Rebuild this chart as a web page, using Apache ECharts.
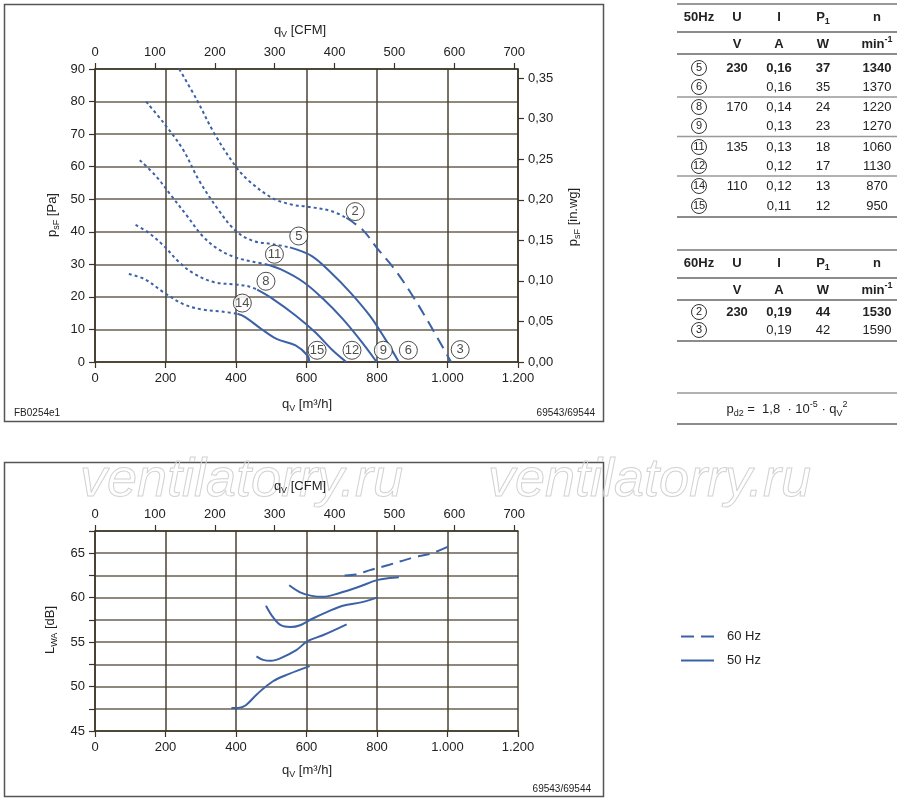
<!DOCTYPE html>
<html><head><meta charset="utf-8">
<script src="https://cdn.jsdelivr.net/npm/echarts@6/dist/echarts.min.js"></script>
<style>html,body{margin:0;padding:0;background:#fff}#c{width:900px;height:802px}</style>
</head><body><div id="c"></div>
<script>
const FONT = '"Liberation Sans", Arial, Helvetica, sans-serif';
const BLUE = '#3b62a6';
const TXT = '#222';
const AXC = '#3b3325';
const GRIDH = '#8f887c';
const GRIDV = '#4a4234';

// unit conversions for secondary axes
const M3H_PER_CFM = 1.699011;
const PA_PER_INWG = 249.089;

// ---- Top chart: static pressure p_sF [Pa] vs q_V [m3/h]
const curve2Dotted = [[239,90],[289,80.5],[338,70.3],[399,60.1],[437,55.6],[504,50.3],[560,48.3],[603,47.7],[669,46.4],[713,44.3]];
const curve2Dashed = [[713,44.3],[760,40.5],[800,35],[850,28.5],[900,20.5],[950,11.5],[1010,0]];
const curve5Dotted = [[145,80],[195,73.4],[250,65.2],[294,56],[349,46.9],[399,40.3],[448,37.2],[504,36.2],[553,35.2]];
const curve5Solid  = [[553,35.2],[614,32.6],[669,27.5],[724,21.4],[779,14.3],[823,7.1],[862,0]];
const curve11Dotted = [[127,62],[173,57.1],[217,51],[261,44.9],[305,38.7],[349,34.7],[399,32.1],[448,30.8],[482,30.1]];
const curve11Solid  = [[482,30.1],[526,28.5],[592,24.5],[647,19.4],[702,13.3],[757,6.1],[799,0]];
const curve8Dotted = [[115,42.1],[151,39.8],[195,35.7],[239,30.6],[283,27],[338,24.5],[399,23.8],[437,23.2],[460,22.2]];
const curve8Solid  = [[460,22.2],[504,19.4],[569,14.3],[624,9.2],[674,3.6],[713,0]];
const curve14Dotted = [[96,27],[140,25.5],[195,21.4],[250,17.8],[305,16.1],[360,15.5],[404,14.8]];
const curve14Solid  = [[404,14.8],[426,13.8],[471,10.2],[515,7.1],[569,5.1],[603,2],[608,0]];
// circled operating-point markers [q, p, label]
const pointLabels = [[738,46.2,'2'],[578,38.7,'5'],[509,33.1,'11'],[485,24.8,'8'],[418,18.1,'14'],
  [630,3.6,'15'],[729,3.6,'12'],[818,3.6,'9'],[889,3.6,'6'],[1036,3.8,'3']];

// ---- Bottom chart: sound power L_WA [dB] vs q_V
const noise60 = [[708,62.5],[740,62.6],[780,63.1],[835,63.7],[901,64.5],[956,65.0],[1011,65.9]];
const noise50a = [[551,61.4],[582,60.6],[615,60.2],[648,60.1],[692,60.5],[747,61.2],[802,62.0],[835,62.2],[862,62.3]];
const noise50b = [[485,59.1],[505,57.8],[527,56.9],[554,56.7],[582,56.9],[615,57.6],[659,58.4],[703,59.1],[758,59.5],[800,60.0]];
const noise50c = [[458,53.4],[477,53.0],[499,52.9],[527,53.2],[571,54.1],[603,55.1],[648,55.8],[714,57.0]];
const noise50d = [[387,47.6],[406,47.6],[428,47.9],[461,49.2],[505,50.6],[549,51.4],[609,52.3]];

// ---- Tables
const tableColsX = [699, 737, 779, 823, 877];
const table50Head = ['50Hz','U','I','P1','n'];
const tableUnits = ['','V','A','W','min-1'];
const table50Rows = [
  ['5','230','0,16','37','1340'],
  ['6','','0,16','35','1370'],
  ['8','170','0,14','24','1220'],
  ['9','','0,13','23','1270'],
  ['11','135','0,13','18','1060'],
  ['12','','0,12','17','1130'],
  ['14','110','0,12','13','870'],
  ['15','','0,11','12','950']
];
const table60Head = ['60Hz','U','I','P1','n'];
const table60Rows = [
  ['2','230','0,19','44','1530'],
  ['3','','0,19','42','1590']
];
const table50RowY = [68, 87, 107, 126, 147, 166, 186, 206];
const table60RowY = [312, 330];
const boldRows50 = [0];
const boldRows60 = [0];

function fmtFlow(v){ return v >= 1000 ? Math.floor(v/1000) + '.' + String(v%1000).padStart(3,'0') : String(v); }

const richBase = {
  i: {fontSize: 13, fontFamily: FONT, fill: TXT, color: TXT, lineHeight: 18},
  s: {fontSize: 9, fontFamily: FONT, fill: TXT, color: TXT, verticalAlign: 'bottom', lineHeight: 10},
  u: {fontSize: 9, fontFamily: FONT, fill: TXT, color: TXT, verticalAlign: 'top', lineHeight: 10},
  b: {fontSize: 13, fontFamily: FONT, fontWeight: 'bold', fill: TXT, color: TXT, lineHeight: 18},
  bs: {fontSize: 9, fontFamily: FONT, fontWeight: 'bold', fill: TXT, color: TXT, verticalAlign: 'bottom', lineHeight: 10},
  bu: {fontSize: 9, fontFamily: FONT, fontWeight: 'bold', fill: TXT, color: TXT, verticalAlign: 'top', lineHeight: 10},
  c: {fontSize: 11, fontFamily: FONT, fill: TXT, borderColor: '#333', borderWidth: 1, borderRadius: 8,
      width: 15, height: 15, lineHeight: 15, align: 'center'}
};

function txt(text, x, y, opts) {
  opts = opts || {};
  return {type: 'text', x: x, y: y, rotation: opts.rot || 0, z: 10,
    style: {text: text, x: 0, y: 0, align: opts.align || 'center', verticalAlign: 'middle',
      fontSize: opts.size || 13, fontFamily: FONT, fontWeight: opts.bold ? 'bold' : 'normal',
      fill: TXT, rich: richBase}};
}
function hline(x1, x2, y, color, w) {
  return {type: 'line', z: 10, shape: {x1: x1, y1: y, x2: x2, y2: y}, style: {stroke: color, lineWidth: w || 1.2}};
}

const graphics = [];
// frames
graphics.push({type: 'rect', z: 1, shape: {x: 4.5, y: 4.5, width: 599, height: 417}, style: {fill: 'none', stroke: '#555', lineWidth: 1.5}});
graphics.push({type: 'rect', z: 1, shape: {x: 4.5, y: 462.5, width: 599, height: 334}, style: {fill: 'none', stroke: '#555', lineWidth: 1.5}});
// watermark
['ventilatorry.ru','ventilatorry.ru'].forEach(function(w, k){
  graphics.push({type: 'text', z: 2, x: k === 0 ? 80 : 488, y: 454,
    style: {text: w, x: 0, y: 0, align: 'left', verticalAlign: 'top', fontSize: 54, fontStyle: 'italic',
      fontFamily: FONT, fill: 'rgba(255,255,255,0)', stroke: '#d2d2d2', lineWidth: 1}});
});
// axis titles
graphics.push(txt('{i|q}{s|V}{i| [CFM]}', 300, 30));
graphics.push(txt('{i|q}{s|V}{i| [m³/h]}', 307, 404));
graphics.push(txt('{i|p}{s|sF}{i| [Pa]}', 52, 215, {rot: Math.PI/2}));
graphics.push(txt('{i|p}{s|sF}{i| [in.wg]}', 573, 217, {rot: Math.PI/2}));
graphics.push(txt('{i|q}{s|V}{i| [CFM]}', 300, 486));
graphics.push(txt('{i|q}{s|V}{i| [m³/h]}', 307, 770));
graphics.push(txt('{i|L}{s|WA}{i| [dB]}', 50, 630, {rot: Math.PI/2}));
// footnotes
graphics.push(txt('FB0254e1', 14, 413, {align: 'left', size: 10}));
graphics.push(txt('69543/69544', 595, 413, {align: 'right', size: 10}));
graphics.push(txt('69543/69544', 591, 789, {align: 'right', size: 10}));

// tables
function headCell(t) {
  if (t === 'P1') return '{b|P}{bs|1}';
  return '{b|' + t + '}';
}
function unitCell(t) {
  if (t === 'min-1') return '{b|min}{bu|-1}';
  return '{b|' + t + '}';
}
function buildTable(head, rows, rowY, boldRows, topY) {
  graphics.push(hline(677, 897, topY, '#777', 1.3));
  head.forEach(function(h, j){ graphics.push(txt(headCell(h), tableColsX[j], topY + 13, {bold: true})); });
  graphics.push(hline(677, 897, topY + 28, '#666', 1.3));
  tableUnits.forEach(function(h, j){ if (h) graphics.push(txt(unitCell(h), tableColsX[j], topY + 40, {bold: true})); });
  graphics.push(hline(677, 897, topY + 50, '#666', 1.3));
  rows.forEach(function(r, i){
    const bold = boldRows.indexOf(i) >= 0;
    r.forEach(function(v, j){
      if (!v) return;
      if (j === 0) graphics.push(txt('{c|' + v + '}', tableColsX[j], rowY[i]));
      else graphics.push(txt(v, tableColsX[j], rowY[i], {bold: bold}));
    });
    if (i % 2 === 1) {
      const ly = (i === rows.length - 1) ? rowY[i] + 11 : (rowY[i] + rowY[i+1]) / 2;
      graphics.push(hline(677, 897, ly, i === rows.length - 1 ? '#666' : '#999', 1.3));
    }
  });
}
buildTable(table50Head, table50Rows, table50RowY, boldRows50, 4);
buildTable(table60Head, table60Rows, table60RowY, boldRows60, 250);
// formula
graphics.push(hline(677, 897, 393, '#999', 1.3));
graphics.push(txt('{i|p}{s|d2}{i| =  1,8  · 10}{u|-5}{i| · q}{s|V}{u|2}', 787, 409));
graphics.push(hline(677, 897, 424, '#666', 1.3));

const axisLabelStyle = {color: TXT, fontSize: 13, fontFamily: FONT};
const axisLineStyle = {show: true, onZero: false, lineStyle: {color: AXC, width: 1.5}};
const tickStyle = {show: true, inside: false, length: 6, lineStyle: {color: AXC, width: 1.2}};

function lineSeries(data, type, name, xi, yi) {
  return {type: 'line', name: name, xAxisIndex: xi, yAxisIndex: yi, data: data, smooth: 0.35,
    symbol: 'none', showSymbol: false, silent: true, z: 5,
    lineStyle: {color: BLUE, width: 2, type: type}, itemStyle: {color: BLUE}};
}
const DOT = [3, 3];
const DASH = [12, 7];

const option = {
  animation: false,
  backgroundColor: '#fff',
  textStyle: {fontFamily: FONT},
  grid: [
    {left: 95, top: 69, width: 423, height: 293},
    {left: 95, top: 531, width: 423, height: 200}
  ],
  xAxis: [
    {gridIndex: 0, type: 'value', position: 'bottom', min: 0, max: 1200, interval: 200,
      axisLine: axisLineStyle, axisTick: tickStyle,
      axisLabel: Object.assign({margin: 10, formatter: fmtFlow}, axisLabelStyle),
      splitLine: {show: true, lineStyle: {color: GRIDV, width: 1.5}}},
    {gridIndex: 0, type: 'value', position: 'top', min: 0, max: 1200 / M3H_PER_CFM, interval: 100,
      axisLine: axisLineStyle, axisTick: tickStyle,
      axisLabel: Object.assign({margin: 10, showMaxLabel: false}, axisLabelStyle),
      splitLine: {show: false}},
    {gridIndex: 1, type: 'value', position: 'bottom', min: 0, max: 1200, interval: 200,
      axisLine: axisLineStyle, axisTick: tickStyle,
      axisLabel: Object.assign({margin: 10, formatter: fmtFlow}, axisLabelStyle),
      splitLine: {show: true, lineStyle: {color: GRIDV, width: 1.5}}},
    {gridIndex: 1, type: 'value', position: 'top', min: 0, max: 1200 / M3H_PER_CFM, interval: 100,
      axisLine: axisLineStyle, axisTick: tickStyle,
      axisLabel: Object.assign({margin: 10, showMaxLabel: false}, axisLabelStyle),
      splitLine: {show: false}}
  ],
  yAxis: [
    {gridIndex: 0, type: 'value', position: 'left', min: 0, max: 90, interval: 10,
      axisLine: axisLineStyle, axisTick: tickStyle,
      axisLabel: Object.assign({margin: 10}, axisLabelStyle),
      splitLine: {show: true, lineStyle: {color: GRIDH, width: 2}}},
    {gridIndex: 0, type: 'value', position: 'right', min: 0, max: 90 / PA_PER_INWG, interval: 0.05,
      axisLine: axisLineStyle, axisTick: tickStyle,
      axisLabel: Object.assign({margin: 10, showMaxLabel: false,
        formatter: function(v){ return v.toFixed(2).replace('.', ','); }}, axisLabelStyle),
      splitLine: {show: false}},
    {gridIndex: 1, type: 'value', position: 'left', min: 45, max: 67.5, interval: 2.5,
      axisLine: axisLineStyle, axisTick: tickStyle,
      axisLabel: Object.assign({margin: 10, formatter: function(v){ return (v % 5 === 0) ? String(v) : ''; }}, axisLabelStyle),
      splitLine: {show: true, lineStyle: {color: GRIDH, width: 2}}}
  ],
  legend: {
    left: 676, top: 625, orient: 'vertical', itemWidth: 33, itemHeight: 2, itemGap: 11,
    selectedMode: false,
    data: [
      {name: '60 Hz', icon: 'path://M0,0L13,0L13,2L0,2Z M20,0L33,0L33,2L20,2Z'},
      {name: '50 Hz', icon: 'path://M0,0L33,0L33,2L0,2Z'}
    ],
    textStyle: {color: TXT, fontSize: 13, fontFamily: FONT, padding: [0, 0, 0, 8]}
  },
  graphic: graphics,
  series: [
    lineSeries(curve2Dotted, DOT, 'p2a', 0, 0),
    lineSeries(curve2Dashed, DASH, 'p2b', 0, 0),
    lineSeries(curve5Dotted, DOT, 'p5a', 0, 0),
    lineSeries(curve5Solid, 'solid', 'p5b', 0, 0),
    lineSeries(curve11Dotted, DOT, 'p11a', 0, 0),
    lineSeries(curve11Solid, 'solid', 'p11b', 0, 0),
    lineSeries(curve8Dotted, DOT, 'p8a', 0, 0),
    lineSeries(curve8Solid, 'solid', 'p8b', 0, 0),
    lineSeries(curve14Dotted, DOT, 'p14a', 0, 0),
    lineSeries(curve14Solid, 'solid', 'p14b', 0, 0),
    {type: 'scatter', name: 'points', xAxisIndex: 0, yAxisIndex: 0, data: pointLabels, z: 8, silent: true,
      symbol: 'circle', symbolSize: 18,
      itemStyle: {color: '#fff', borderColor: '#222', borderWidth: 1},
      label: {show: true, position: 'inside', color: TXT, fontSize: 13, fontFamily: FONT,
        formatter: function(p){ return p.value[2]; }}},
    lineSeries(noise60, DASH, '60 Hz', 2, 2),
    lineSeries(noise50a, 'solid', '50 Hz', 2, 2),
    lineSeries(noise50b, 'solid', '50 Hz', 2, 2),
    lineSeries(noise50c, 'solid', '50 Hz', 2, 2),
    lineSeries(noise50d, 'solid', '50 Hz', 2, 2)
  ]
};
const chart = echarts.init(document.getElementById('c'), null, {renderer: 'canvas'});
chart.setOption(option);
</script></body></html>
